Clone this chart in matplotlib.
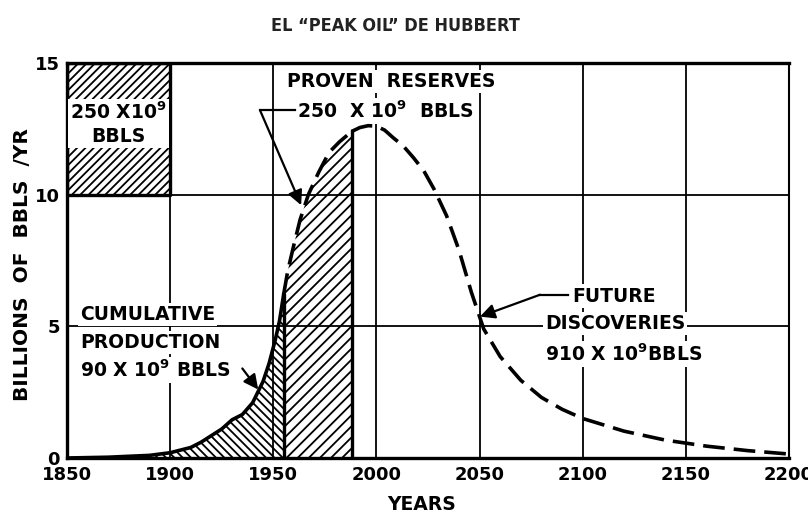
import matplotlib.pyplot as plt

# Hubbert curve (billions of bbls / yr)
prod_years = [1850, 1870, 1890, 1900, 1910, 1915, 1920, 1925, 1930, 1935, 1940, 1945, 1948, 1951, 1953, 1955]
prod_vals = [0.0, 0.03, 0.1, 0.2, 0.4, 0.6, 0.85, 1.1, 1.45, 1.65, 2.1, 2.9, 3.6, 4.5, 5.2, 6.2]

reserve_years = [1955, 1957, 1960, 1963, 1967, 1972, 1977, 1982, 1988]
reserve_vals = [6.2, 7.1, 8.1, 9.05, 10.0, 10.85, 11.6, 12.0, 12.4]

future_years = [1988, 1992, 1996, 2000, 2004, 2008, 2013, 2018, 2023, 2028, 2034, 2040,
                2046, 2052, 2060, 2070, 2080, 2090, 2100, 2120, 2140, 2160, 2180, 2200]
future_vals = [12.4, 12.55, 12.62, 12.6, 12.45, 12.17, 11.85, 11.4, 10.9, 10.2, 9.2, 7.9,
               6.3, 4.9, 3.85, 2.95, 2.3, 1.85, 1.5, 1.02, 0.68, 0.45, 0.28, 0.15]

# scale square: 50 years x 5 bbls/yr
box_years = [1850, 1900]
box_low, box_high = 10, 15

x_ticks = [1850, 1900, 1950, 2000, 2050, 2100, 2150, 2200]
y_ticks = [0, 5, 10, 15]

plt.rcParams['font.family'] = ['DejaVu Sans']
plt.rcParams['hatch.linewidth'] = 1.3

fig = plt.figure(figsize=(8.08, 5.16), dpi=100)
ax = fig.add_axes([67 / 808, 1 - 458 / 516, 722 / 808, 395 / 516])
ax.set_xlim(1850, 2200)
ax.set_ylim(0, 15)

ax.set_xticks(x_ticks)
ax.set_yticks(y_ticks)
ax.tick_params(length=0, labelsize=13)
ax.tick_params(axis='x', pad=6)
ax.tick_params(axis='y', pad=5)
for lab in ax.get_xticklabels() + ax.get_yticklabels():
    lab.set_fontweight('bold')
ax.grid(color='black', lw=1.3)
ax.set_axisbelow(True)
for side in ['left', 'bottom', 'top']:
    ax.spines[side].set_linewidth(2.4)
ax.spines['right'].set_linewidth(1.5)

# hatched scale box
ax.fill_between(box_years, box_low, box_high, facecolor='white', edgecolor='black',
                hatch='////', lw=2.4, zorder=2)

# cumulative production and proven reserves
ax.fill_between(prod_years, 0, prod_vals, facecolor='none', edgecolor='black',
                hatch='\\\\\\\\', lw=0, zorder=2)
ax.fill_between(reserve_years, 0, reserve_vals, facecolor='none', edgecolor='black',
                hatch='///', lw=0, zorder=2)
ax.plot(prod_years, prod_vals, color='black', lw=2.6, zorder=4)
ax.plot([reserve_years[0], reserve_years[0]], [0, reserve_vals[0]], color='black', lw=2.4, zorder=4)
ax.plot([reserve_years[-1], reserve_years[-1]], [0, reserve_vals[-1]], color='black', lw=2.4, zorder=4)
ax.plot(reserve_years, reserve_vals, color='black', lw=2.6, ls=(0, (6, 2.5)), zorder=4)
ax.plot(future_years, future_vals, color='black', lw=2.6, ls=(0, (6, 2.5)), zorder=4)

txt = dict(fontsize=13.5, fontweight='bold', color='black', zorder=3)
wbox = dict(facecolor='white', edgecolor='none', pad=1.5)

ax.text(1875, 12.7, '250 X10$^{\\mathbf{9}}$\nBBLS', ha='center', va='center',
        ma='center', linespacing=1.3, bbox=wbox, **txt)

ax.text(1956.6, 14.3, 'PROVEN  RESERVES', ha='left', va='center', bbox=wbox, **txt)
ax.text(1961.5, 13.18, '250  X 10$^{\\mathbf{9}}$  BBLS', ha='left', va='center', bbox=wbox, **txt)
ax.plot([1943.6, 1960.5], [13.2, 13.2], color='black', lw=1.6, zorder=4)
ax.annotate('', xy=(1963.5, 9.6), xytext=(1943.6, 13.2), zorder=5,
            arrowprops=dict(arrowstyle='-|>', lw=1.6, color='black', mutation_scale=22,
                            shrinkA=0, shrinkB=0))

ax.text(1856.3, 5.45, 'CUMULATIVE', ha='left', va='center', bbox=wbox, **txt)
ax.text(1856.3, 4.4, 'PRODUCTION', ha='left', va='center', bbox=wbox, **txt)
ax.text(1856.3, 3.34, '90 X 10$^{\\mathbf{9}}$ BBLS', ha='left', va='center', bbox=wbox, **txt)
ax.annotate('', xy=(1942.7, 2.6), xytext=(1935.0, 3.4), zorder=5,
            arrowprops=dict(arrowstyle='-|>', lw=1.6, color='black', mutation_scale=22,
                            shrinkA=0, shrinkB=0))

ax.text(2094.8, 6.15, 'FUTURE', ha='left', va='center', bbox=wbox, **txt)
ax.text(2081.7, 5.1, 'DISCOVERIES', ha='left', va='center', bbox=wbox, **txt)
ax.text(2081.7, 3.95, '910 X 10$^{\\mathbf{9}}$BBLS', ha='left', va='center', bbox=wbox, **txt)
ax.plot([2079.3, 2092.9], [6.2, 6.2], color='black', lw=1.6, zorder=4)
ax.annotate('', xy=(2050.2, 5.37), xytext=(2079.3, 6.2), zorder=5,
            arrowprops=dict(arrowstyle='-|>', lw=1.6, color='black', mutation_scale=22,
                            shrinkA=0, shrinkB=0))

fig.text(23 / 808, 1 - 265 / 516, 'BILLIONS  OF  BBLS  /YR', rotation=90,
         ha='center', va='center', fontsize=14.5, fontweight='bold')
fig.text(422 / 808, 1 - 505 / 516, 'YEARS', ha='center', va='center',
         fontsize=13.5, fontweight='bold')
fig.text(395 / 808, 1 - 26 / 516, 'EL \u201cPEAK OIL\u201d DE HUBBERT', ha='center', va='center',
         fontsize=13, fontweight='bold', fontstretch='condensed', color='#222222',
         family=['DejaVu Sans'])

fig.savefig('out.png', dpi=100)
